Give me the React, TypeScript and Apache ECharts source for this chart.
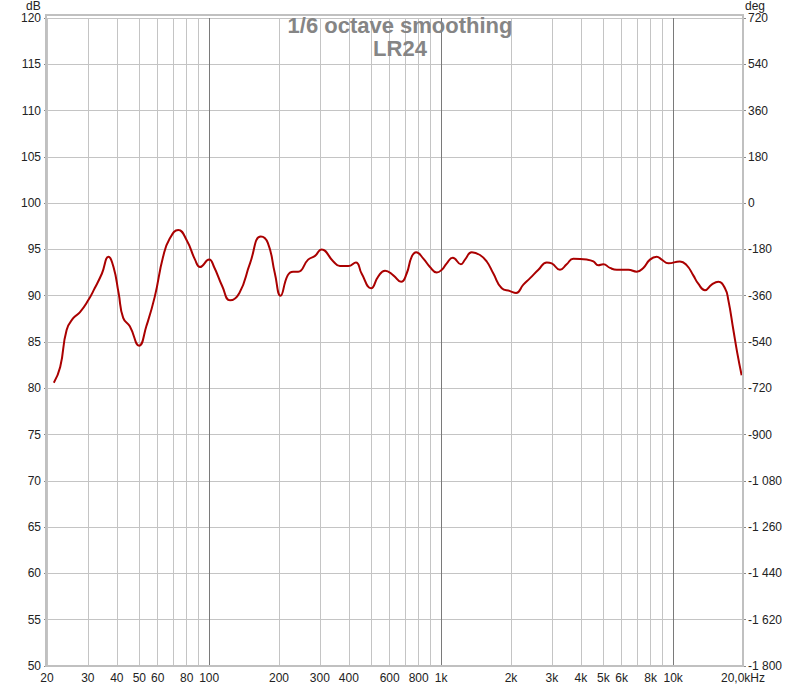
import React, { useEffect, useRef } from "react";
import * as echarts from "echarts";

const freqs = [
  21.4, 22.8, 24.3, 26.0, 27.7, 30.1, 32.1, 34.5, 36.8, 38.7, 40.7, 42.6, 45.5, 49.9,
  53.6, 58.3, 63.3, 67.7, 73.6, 80.0, 86.9, 91.3, 100, 105, 114, 123, 135, 150, 167,
  179, 192, 203, 218, 230, 242, 267, 286, 305, 343, 366, 398, 429, 454, 499, 536, 573,
  622, 672, 710, 746, 780, 838, 895, 957, 1006, 1057, 1122, 1217, 1267, 1355, 1470,
  1572, 1679, 1825, 1981, 2104, 2261, 2417, 2625, 2853, 2995, 3252, 3476, 3714, 4241,
  4530, 4756, 5000, 5344, 5712, 6413, 6966, 7438, 7945, 8493, 8925, 9536, 10694, 11426,
  12211, 12830, 13713, 14655, 15663, 16722, 17300, 18180, 18900, 19730,
];
const splValues = [
  80.6, 82.3, 86.3, 87.6, 88.2, 89.5, 90.8, 92.4, 94.2, 93.1, 90.3, 87.6, 86.7, 84.6,
  86.7, 89.9, 94.2, 96.2, 97.1, 96.0, 93.9, 93.1, 93.9, 93.1, 91.0, 89.5, 90.3, 93.5, 96.4,
  95.7, 92.4, 90.0, 92.2, 92.6, 92.6, 93.9, 94.3, 95.0, 93.7, 93.2, 93.2, 93.6, 92.4, 90.8,
  92.1, 92.7, 92.2, 91.5, 92.4, 94.2, 94.7, 94.0, 93.1, 92.5, 92.8, 93.5, 94.1, 93.4, 93.9,
  94.7, 94.4, 93.7, 92.4, 90.8, 90.5, 90.3, 91.2, 91.9, 92.8, 93.6, 93.5, 92.8, 93.4, 94.0,
  93.9, 93.7, 93.3, 93.4, 93.0, 92.8, 92.8, 92.6, 93.0, 93.9, 94.2, 93.9, 93.5, 93.7, 93.3,
  92.2, 91.3, 90.6, 91.2, 91.5, 90.8, 89.5, 86.3, 83.8, 81.4,
];

const gridFreqs = [
  20, 30, 40, 50, 60, 70, 80, 90, 100, 200, 300, 400, 500, 600, 700, 800, 900, 1000,
  2000, 3000, 4000, 5000, 6000, 7000, 8000, 9000, 10000, 20000,
];
const decadeFreqs = [100, 1000, 10000];
const labelFreqs = [20, 30, 40, 50, 60, 80, 100, 200, 300, 400, 600, 800, 1000, 2000, 3000, 4000, 5000, 6000, 8000, 10000, 20000];
const labelTexts = ["20", "30", "40", "50", "60", "80", "100", "200", "300", "400", "600", "800", "1k", "2k", "3k", "4k", "5k", "6k", "8k", "10k", "20,0kHz"];

const fmtThousands = (v: number) => {
  const s = Math.abs(v).toString();
  const withSpace = s.length > 3 ? s.slice(0, s.length - 3) + " " + s.slice(-3) : s;
  return (v < 0 ? "-" : "") + withSpace;
};

export default function App() {
  const ref = useRef<HTMLDivElement>(null);
  useEffect(() => {
    if (!ref.current) return;
    const chart = echarts.init(ref.current, null, { renderer: "svg" });
    const font = "'Liberation Sans', Arial, sans-serif";
    const markData = gridFreqs.map((f) => {
      const isDecade = decadeFreqs.includes(f);
      return {
        xAxis: f,
        lineStyle: { color: isDecade ? "#7a7a7a" : "#c4c4c4", width: 1, type: "solid" },
        label: { show: false },
      };
    });
    const labelMarks = labelFreqs.map((f, i) => ({
      xAxis: f,
      lineStyle: { color: "rgba(0,0,0,0)", width: 0 },
      label: {
        show: true,
        position: "start",
        formatter: labelTexts[i],
        distance: 6,
        color: "#222",
        fontSize: 12,
        lineHeight: 12,
        fontFamily: font,
      },
    }));
    chart.setOption({
      animation: false,
      grid: { left: 47, right: 57, top: 18, bottom: 23, containLabel: false },
      xAxis: {
        type: "log",
        logBase: 10,
        min: 20,
        max: 20000,
        axisLine: { show: false },
        axisTick: { show: false },
        axisLabel: { show: false },
        splitLine: { show: false },
      },
      yAxis: [
        {
          type: "value",
          min: 50,
          max: 120,
          interval: 5,
          position: "left",
          axisLine: { show: false },
          axisTick: { show: true, length: 3, lineStyle: { color: "#888" } },
          axisLabel: { color: "#222", fontSize: 12, lineHeight: 12, fontFamily: font, margin: 6 },
          splitLine: { show: true, lineStyle: { color: "#c4c4c4", width: 1 } },
        },
        {
          type: "value",
          min: -1800,
          max: 720,
          interval: 180,
          position: "right",
          axisLine: { show: false },
          axisTick: { show: true, length: 3, lineStyle: { color: "#888" } },
          axisLabel: {
            color: "#222",
            fontSize: 12,
            lineHeight: 12,
            fontFamily: font,
            margin: 5,
            verticalAlign: "bottom",
            padding: [0, 0, -6, 0],
            formatter: (v: number) => fmtThousands(v),
          },
          splitLine: { show: false },
        },
      ],
      graphic: [
        {
          type: "rect",
          shape: { x: 46, y: 15, width: 697, height: 651 },
          style: { fill: "none", stroke: "#c0c0c0", lineWidth: 2 },
          z: 10,
          silent: true,
        },
        {
          type: "text",
          x: 400,
          y: 14,
          z: 20,
          style: {
            text: "1/6 octave smoothing",
            fill: "#858585",
            fontSize: 22,
            fontWeight: "bold",
            fontFamily: font,
            textAlign: "center",
            textVerticalAlign: "top",
          },
        },
        {
          type: "text",
          x: 400,
          y: 37,
          z: 20,
          style: {
            text: "LR24",
            fill: "#858585",
            fontSize: 22,
            fontWeight: "bold",
            fontFamily: font,
            textAlign: "center",
            textVerticalAlign: "top",
          },
        },
        {
          type: "text",
          x: 26,
          y: 0,
          style: { text: "dB", fill: "#222", fontSize: 12, lineHeight: 11, fontFamily: font },
        },
        {
          type: "text",
          x: 745,
          y: 0,
          style: { text: "deg", fill: "#222", fontSize: 12, lineHeight: 11, fontFamily: font },
        },
      ],
      series: [
        {
          type: "line",
          data: [],
          z: 1,
          silent: true,
          markLine: {
            silent: true,
            symbol: "none",
            animation: false,
            data: [...markData, ...labelMarks],
          },
        },
        {
          type: "line",
          data: freqs.map((f, i) => [f, splValues[i]]),
          yAxisIndex: 0,
          smooth: 0.5,
          showSymbol: false,
          symbol: "none",
          z: 5,
          lineStyle: { color: "#aa0000", width: 2 },
        },
      ],
    });
    return () => chart.dispose();
  }, []);
  return (
    <div
      ref={ref}
      style={{ position: "fixed", left: 0, top: 0, width: 800, height: 689, background: "#fff" }}
    />
  );
}
